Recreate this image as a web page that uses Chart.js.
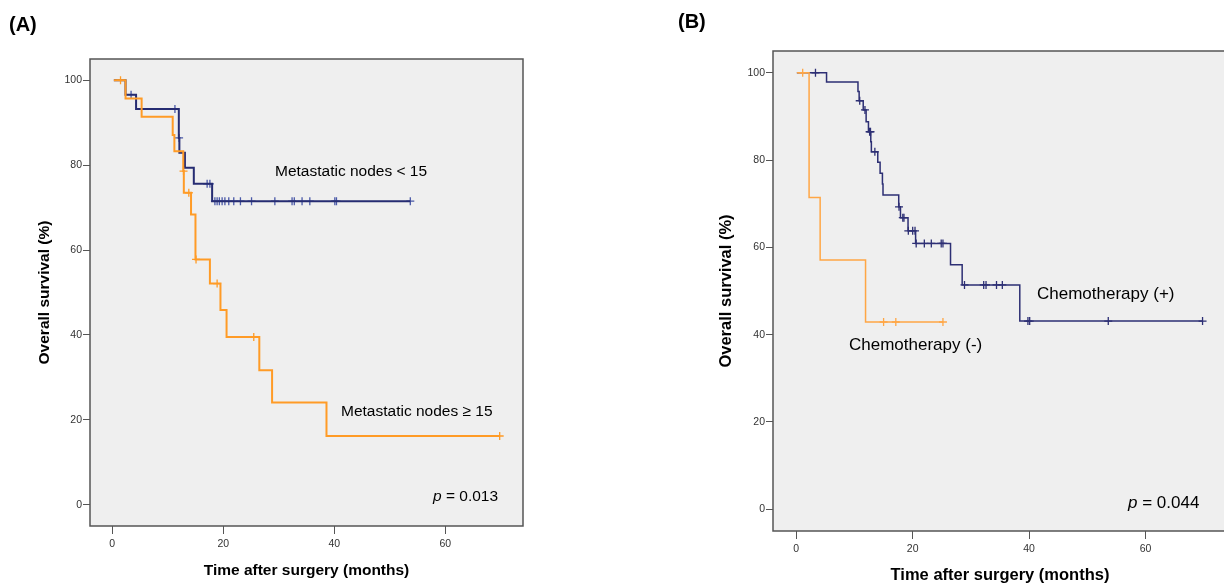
<!DOCTYPE html>
<html>
<head>
<meta charset="utf-8">
<script src="https://cdn.jsdelivr.net/npm/chart.js@4.4.1/dist/chart.umd.min.js"></script>
<style>
  html, body { margin: 0; padding: 0; background: #fff; overflow: hidden; width: 1224px; height: 585px; }
  #panelA { position: absolute; left: 0; top: 0; }
  #panelB { position: absolute; left: 660px; top: 0; }
</style>
</head>
<body>
<canvas id="panelA" width="560" height="585"></canvas>
<canvas id="panelB" width="580" height="585"></canvas>
<script>
// axis ticks (both panels)
const timeTicks = [0, 20, 40, 60];
const survivalTicks = [0, 20, 40, 60, 80, 100];

// (A) metastatic nodes < 15
const lowNodesTime = [0.3, 2.4, 4.3, 12.0, 12.1, 13.1, 14.7, 18.0, 53.7];
const lowNodesSurv = [100, 96.6, 93.2, 86.4, 82.9, 79.4, 75.6, 71.5, 71.5];
const lowNodesCensor = [3.4, 11.3, 12.05, 17.1, 17.6, 18.5, 18.9, 19.3, 19.8, 20.3, 21.0, 21.9, 23.1, 25.1,
  29.3, 32.4, 32.8, 34.2, 35.6, 40.1, 40.4, 53.7];

// (A) metastatic nodes >= 15
const highNodesTime = [0.3, 2.4, 5.3, 10.9, 11.2, 12.8, 12.9, 14.2, 15.0, 17.6, 19.5, 20.6, 26.5, 28.8, 38.6, 69.8];
const highNodesSurv = [100, 95.7, 91.4, 87.1, 83.3, 78.6, 73.5, 68.4, 57.8, 52.1, 45.9, 39.5, 31.7, 24.1, 16.2, 16.2];
const highNodesCensor = [1.5, 12.85, 13.8, 15.1, 18.9, 25.5, 69.8];

// (B) chemotherapy (+)
const chemoTime = [0.1, 5.2, 10.6, 10.8, 11.5, 12.0, 12.4, 12.8, 12.9, 14.0, 14.4, 14.8, 14.9, 17.6, 17.9,
  19.2, 20.5, 26.5, 28.5, 38.4, 69.8];
const chemoSurv = [100, 97.9, 95.7, 93.6, 91.5, 88.8, 86.5, 84.2, 81.9, 79.5, 77.0, 74.5, 72.0, 69.3, 66.8,
  63.8, 60.9, 56.0, 51.4, 43.1, 43.1];
const chemoCensor = [3.3, 10.9, 11.8, 12.6, 12.75, 13.5, 17.65, 18.3, 18.5, 19.25, 20.0, 20.4, 20.6, 22.0,
  23.2, 24.9, 25.2, 28.9, 32.2, 32.6, 34.4, 35.4, 39.8, 40.1, 53.6, 69.8];

// (B) chemotherapy (-)
const noChemoTime = [0.1, 2.2, 4.1, 11.9, 25.2];
const noChemoSurv = [100, 71.4, 57.1, 42.9, 42.9];
const noChemoCensor = [1.1, 15.0, 17.1, 25.2];

const FONT = "'Liberation Sans', Arial, sans-serif";

// survival value of the step curve at time t
function survAt(times, surv, t) {
  let s = surv[0];
  for (let i = 0; i < times.length; i++) {
    if (times[i] <= t) s = surv[i];
  }
  return s;
}

function stepLine(times, surv, color, width) {
  return {
    data: times.map((t, i) => ({ x: t, y: surv[i] })),
    showLine: true,
    stepped: 'before',
    borderColor: color,
    borderWidth: width,
    pointRadius: 0,
    fill: false
  };
}

function censorMarks(times, surv, marks, color) {
  return {
    data: marks.map(t => ({ x: t, y: survAt(times, surv, t) })),
    showLine: false,
    pointStyle: 'cross',
    pointRadius: 4,
    borderColor: color,
    borderWidth: 1.3
  };
}

// grey plot box
const framePlugin = {
  id: 'frame',
  beforeDatasetsDraw(chart) {
    const { ctx, chartArea: a } = chart;
    ctx.save();
    ctx.fillStyle = '#efefef';
    ctx.fillRect(a.left, a.top, a.width, a.height);
    ctx.restore();
  },
  afterDatasetsDraw(chart) {
    const { ctx, chartArea: a } = chart;
    ctx.save();
    ctx.strokeStyle = '#555';
    ctx.lineWidth = 1.5;
    ctx.strokeRect(a.left, a.top, a.width, a.height);
    ctx.restore();
  }
};

// panel letter, curve labels and p value
const notesPlugin = {
  id: 'notes',
  afterDraw(chart, args, opts) {
    const ctx = chart.ctx;
    ctx.save();
    ctx.fillStyle = '#000';
    ctx.textBaseline = 'middle';
    ctx.textAlign = 'left';
    opts.items.forEach(n => {
      let x = n.x;
      if (n.italic) {
        ctx.font = 'italic ' + n.size + 'px ' + FONT;
        ctx.fillText(n.italic, x, n.y);
        x += ctx.measureText(n.italic).width;
      }
      ctx.font = (n.bold ? 'bold ' : '') + n.size + 'px ' + FONT;
      ctx.fillText(n.text, x, n.y);
    });
    ctx.restore();
  }
};

function kmChart(id, datasets, box, notes) {
  const titleFont = { family: FONT, size: box.titleSize, weight: 'bold' };
  const tickFont = { family: FONT, size: 10.5 };
  return new Chart(document.getElementById(id), {
    type: 'scatter',
    data: { datasets },
    options: {
      responsive: false,
      animation: false,
      layout: { padding: { left: 0, top: box.top, right: box.right, bottom: 0 } },
      plugins: {
        legend: { display: false },
        tooltip: { enabled: false },
        notes: { items: notes }
      },
      scales: {
        x: {
          type: 'linear',
          min: -4,
          max: 74,
          afterBuildTicks: s => { s.ticks = timeTicks.map(v => ({ value: v })); },
          afterFit: s => { s.height = box.xHeight; },
          grid: { drawOnChartArea: false, tickLength: 8, color: '#555', tickWidth: 1 },
          border: { display: false },
          ticks: { padding: 4, font: tickFont, color: '#333' },
          title: {
            display: true, text: 'Time after surgery (months)', font: titleFont, color: '#000',
            padding: { top: 0, bottom: box.xTitlePad }
          }
        },
        y: {
          type: 'linear',
          min: -5,
          max: 105,
          afterBuildTicks: s => { s.ticks = survivalTicks.map(v => ({ value: v })); },
          afterFit: s => { s.width = box.yWidth; },
          grid: { drawOnChartArea: false, tickLength: 7, color: '#555', tickWidth: 1 },
          border: { display: false },
          ticks: { padding: 1, font: tickFont, color: '#333' },
          title: {
            display: true, text: 'Overall survival (%)', font: titleFont, color: '#000',
            padding: { top: box.yTitlePad, bottom: 0 }
          }
        }
      }
    },
    plugins: [framePlugin, notesPlugin]
  });
}

kmChart('panelA', [
  stepLine(highNodesTime, highNodesSurv, '#ff9b26', 2),
  censorMarks(highNodesTime, highNodesSurv, highNodesCensor, '#ff9b26'),
  stepLine(lowNodesTime, lowNodesSurv, '#262c72', 2),
  censorMarks(lowNodesTime, lowNodesSurv, lowNodesCensor, '#4a59a8')
], { top: 59, right: 37, xHeight: 59, yWidth: 90, titleSize: 15.5, yTitlePad: 35.7, xTitlePad: 5 }, [
  { text: '(A)', x: 9, y: 25, size: 20, bold: true },
  { text: 'Metastatic nodes < 15', x: 275, y: 172, size: 15.5 },
  { text: 'Metastatic nodes \u2265 15', x: 341, y: 412, size: 15.5 },
  { italic: 'p', text: ' = 0.013', x: 433, y: 497, size: 15.5 }
]);

kmChart('panelB', [
  stepLine(noChemoTime, noChemoSurv, '#ffa645', 1.5),
  censorMarks(noChemoTime, noChemoSurv, noChemoCensor, '#ffa645'),
  stepLine(chemoTime, chemoSurv, '#2d2f74', 1.5),
  censorMarks(chemoTime, chemoSurv, chemoCensor, '#2d2f74')
], { top: 51, right: 13, xHeight: 54, yWidth: 113, titleSize: 16.5, yTitlePad: 57, xTitlePad: 0 }, [
  { text: '(B)', x: 18, y: 22, size: 20, bold: true },
  { text: 'Chemotherapy (+)', x: 377, y: 294, size: 17 },
  { text: 'Chemotherapy (-)', x: 189, y: 345, size: 17 },
  { italic: 'p', text: ' = 0.044', x: 468, y: 503, size: 17 }
]);
</script>
</body>
</html>
